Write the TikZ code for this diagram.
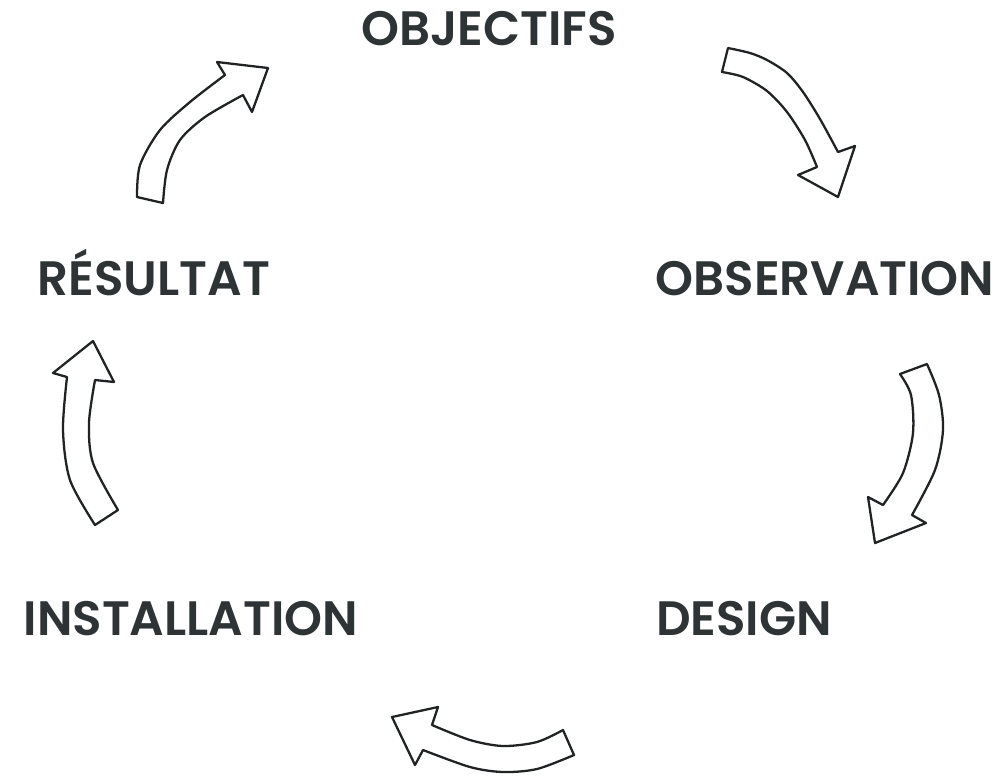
\documentclass[tikz,border=0pt]{standalone}
\usepackage{fontspec}
\setmainfont{Poppins}[BoldFont={Poppins SemiBold}]
\usepackage{tikz}
\definecolor{ink}{HTML}{2E3335}
\definecolor{pen}{HTML}{202224}
\tikzset{
  stage/.style={anchor=base, text=ink, inner sep=0pt, font=\fontsize{27.5}{30}\selectfont\bfseries},
  blockarrow/.style={draw=pen, fill=white, line width=1.3pt, line join=round}
}

\begin{document}
\begin{tikzpicture}[x=0.02cm, y=-0.02cm]
\useasboundingbox (0,0) rectangle (1001,779);
\node[stage] (obj) at (489,45) {OBJECTIFS};
\node[stage] (obs) at (825,295) {OBSERVATION};
\node[stage] (des) at (744,635) {DESIGN};
\node[stage] (ins) at (191,635) {INSTALLATION};
\node[stage] (res) at (154,295) {RÉSULTAT};

\draw[blockarrow] (728,48) -- plot[smooth] coordinates {(728,48) (750,53) (767,60) (787,73) (803,92) (820,119) (838,152)}
  -- (855,146) -- (838,197) -- (798,175) -- (817,167)
  -- plot[smooth] coordinates {(817,167) (805,140) (787,112) (767,91) (743,77) (722,72)} -- cycle;
\draw[blockarrow] (927,364) -- plot[smooth] coordinates {(927,364) (939,395) (943,430) (935,470) (912,515)}
  -- (926,523) -- (875,543) -- (868,497) -- (883,505)
  -- plot[smooth] coordinates {(883,505) (903,473) (913,433) (911,395) (900,374)} -- cycle;
\draw[blockarrow] (563,730) -- plot[smooth] coordinates {(563,730) (537,742) (503,746) (470,740) (432,725)}
  -- (438,707) -- (392,717) -- (415,765) -- (423,750)
  -- plot[smooth] coordinates {(423,750) (470,767) (503,772) (537,769) (574,755)} -- cycle;
\draw[blockarrow] (95,525) -- plot[smooth] coordinates {(95,525) (70,480) (63,430) (67,377)}
  -- (53,373) -- (93,341) -- (114,382) -- (95,380)
  -- plot[smooth] coordinates {(95,380) (89,423) (93,463) (118,510)} -- cycle;
\draw[blockarrow] (137,197) -- plot[smooth] coordinates {(137,197) (140,165) (160,130) (190,102) (225,75)}
  -- (217,62) -- (268,68) -- (252,112) -- (243,95)
  -- plot[smooth] coordinates {(243,95) (205,117) (180,140) (167,170) (163,203)} -- cycle;
\end{tikzpicture}
\end{document}
